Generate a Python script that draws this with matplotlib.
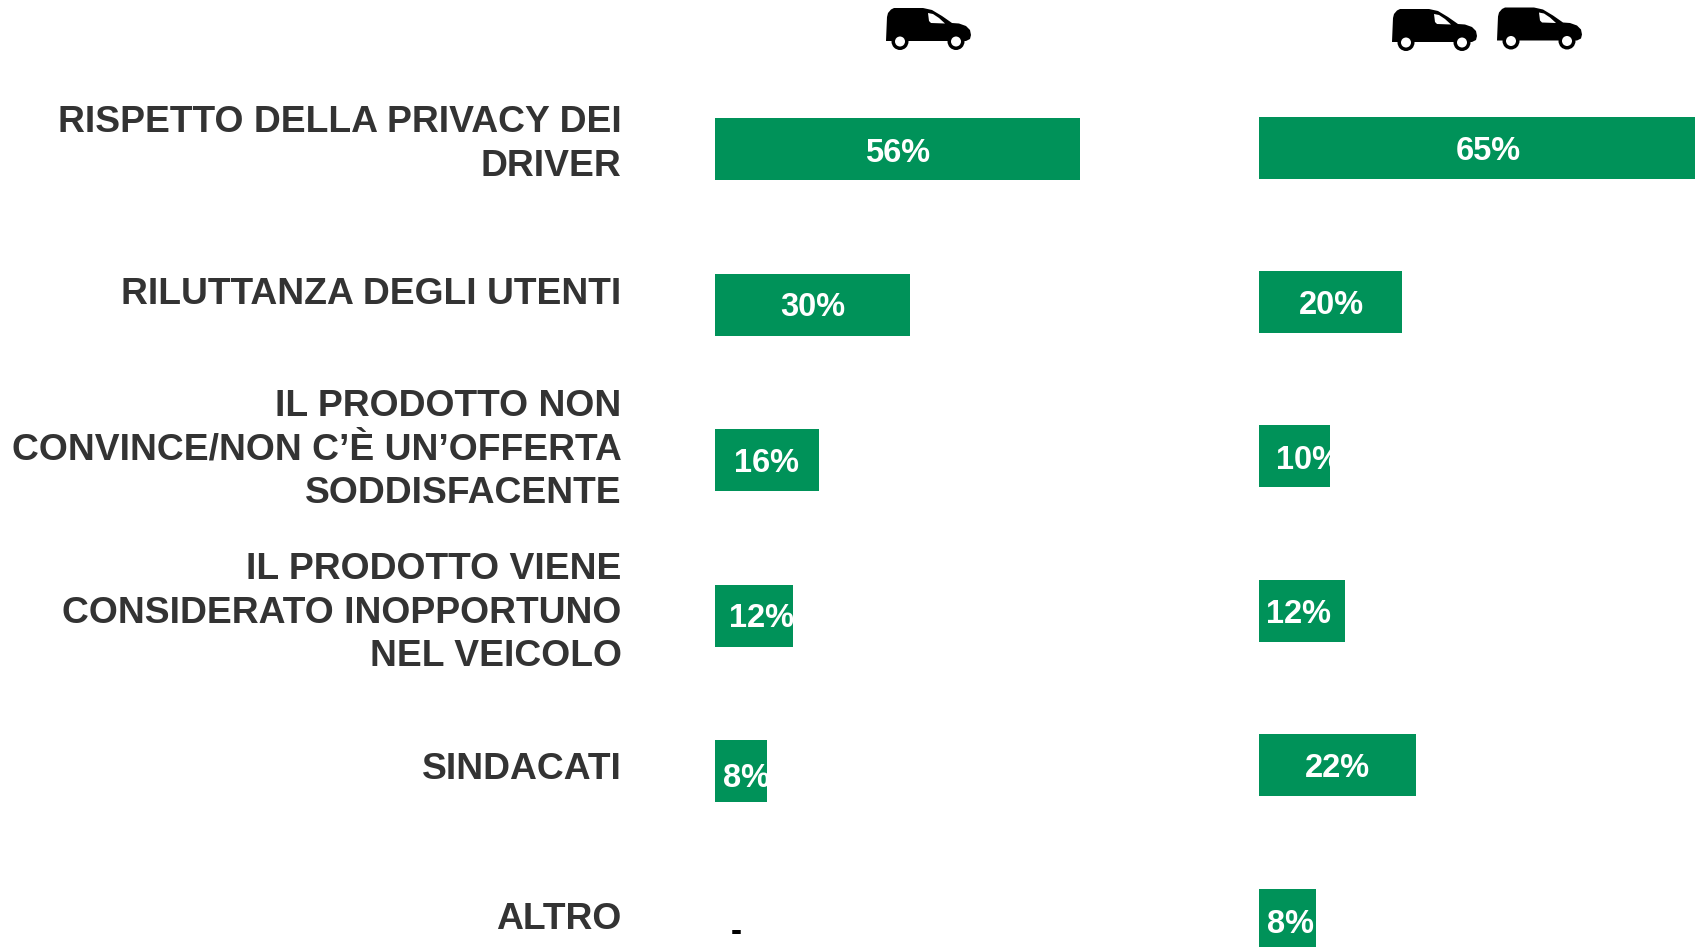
import matplotlib
matplotlib.use("Agg")
import matplotlib.pyplot as plt
from matplotlib.patches import Circle, Polygon

W, H = 1695, 947
GREEN = "#009259"
TEXT = "#333333"

categories = [
    "RISPETTO DELLA PRIVACY DEI\nDRIVER",
    "RILUTTANZA DEGLI UTENTI",
    "IL PRODOTTO NON\nCONVINCE/NON C’È UN’OFFERTA\nSODDISFACENTE",
    "IL PRODOTTO VIENE\nCONSIDERATO INOPPORTUNO\nNEL VEICOLO",
    "SINDACATI",
    "ALTRO",
]
values_one_van = [56, 30, 16, 12, 8, None]
values_two_vans = [65, 20, 10, 12, 22, 8]

# layout in pixel, preso dal riferimento
label_y = [144.5, 294, 450, 613, 769, 919]
offset_one = [0, 0, 0, 8, 6, 0]
offset_two = [-3, 1, 14, -3, 0, 3]
nudge_one = [4, 3, 3, 3, 7, 0]
nudge_two = [4, 3, 4, 4, 3, 5]

plt.rcParams["font.family"] = ["Liberation Sans", "DejaVu Sans"]
plt.rcParams["font.weight"] = "bold"

fig = plt.figure(figsize=(W / 100, H / 100), dpi=100, facecolor="white")

# overlay in pixel per etichette e icone
overlay = fig.add_axes([0, 0, 1, 1])
overlay.set_xlim(0, W)
overlay.set_ylim(H, 0)
overlay.axis("off")


def draw_panel(values, x0, px_per_pct, y0, pitch, offsets, nudges):
    right = W if x0 > 1000 else 1250
    ax = fig.add_axes([x0 / W, 0, (right - x0) / W, 1])
    ax.set_xlim(0, (right - x0) / px_per_pct)
    ax.set_ylim((H - y0) / pitch, -y0 / pitch)
    ax.axis("off")
    ax.patch.set_alpha(0)
    for i, v in enumerate(values):
        if v is None:
            ax.text(16 / px_per_pct, i + 5 / pitch, "-", color="black", fontsize=24,
                    ha="left", va="center")
            continue
        bar = ax.barh(i, v, height=62 / pitch, color=GREEN, linewidth=0)[0]
        t = ax.text(v / 2 + offsets[i] / px_per_pct, i + nudges[i] / pitch, f"{v}%",
                    color="white", fontsize=23.5, ha="center", va="center")
        t.set_clip_path(bar)
    return ax


draw_panel(values_one_van, 714.5, 6.53, 149, 155.6, offset_one, nudge_one)
draw_panel(values_two_vans, 1258.5, 7.17, 147.6, 154.4, offset_two, nudge_two)

for name, y in zip(categories, label_y):
    overlay.text(621.5, y, name, color=TEXT, fontsize=26.8, ha="right", va="center",
                 linespacing=1.33)

VAN_BODY = [(0, 33), (1, 9), (2, 5), (5, 1.5), (8, 0), (37, 0), (46, 2), (56, 8), (66, 15),
            (73, 15.5), (80, 18), (84, 22), (85, 27), (84, 31), (80, 33)]
VAN_WINDOW = [(42, 5), (47, 6), (53, 10), (59, 15.5), (45, 15), (43, 13)]
VAN_WHEELS = [14, 70]


def draw_van(x, y):
    overlay.add_patch(Polygon([(x + a, y + b) for a, b in VAN_BODY], color="black", lw=0, zorder=5))
    overlay.add_patch(Polygon([(x + a, y + b) for a, b in VAN_WINDOW], color="white", lw=0, zorder=6))
    for wx in VAN_WHEELS:
        overlay.add_patch(Circle((x + wx, y + 33.5), 8.5, color="black", lw=0, zorder=6))
        overlay.add_patch(Circle((x + wx, y + 33.5), 5, color="white", lw=0, zorder=7))


draw_van(886, 8)
draw_van(1392, 9)
draw_van(1497, 7.5)

fig.savefig("out.png", dpi=100)
plt.close(fig)
